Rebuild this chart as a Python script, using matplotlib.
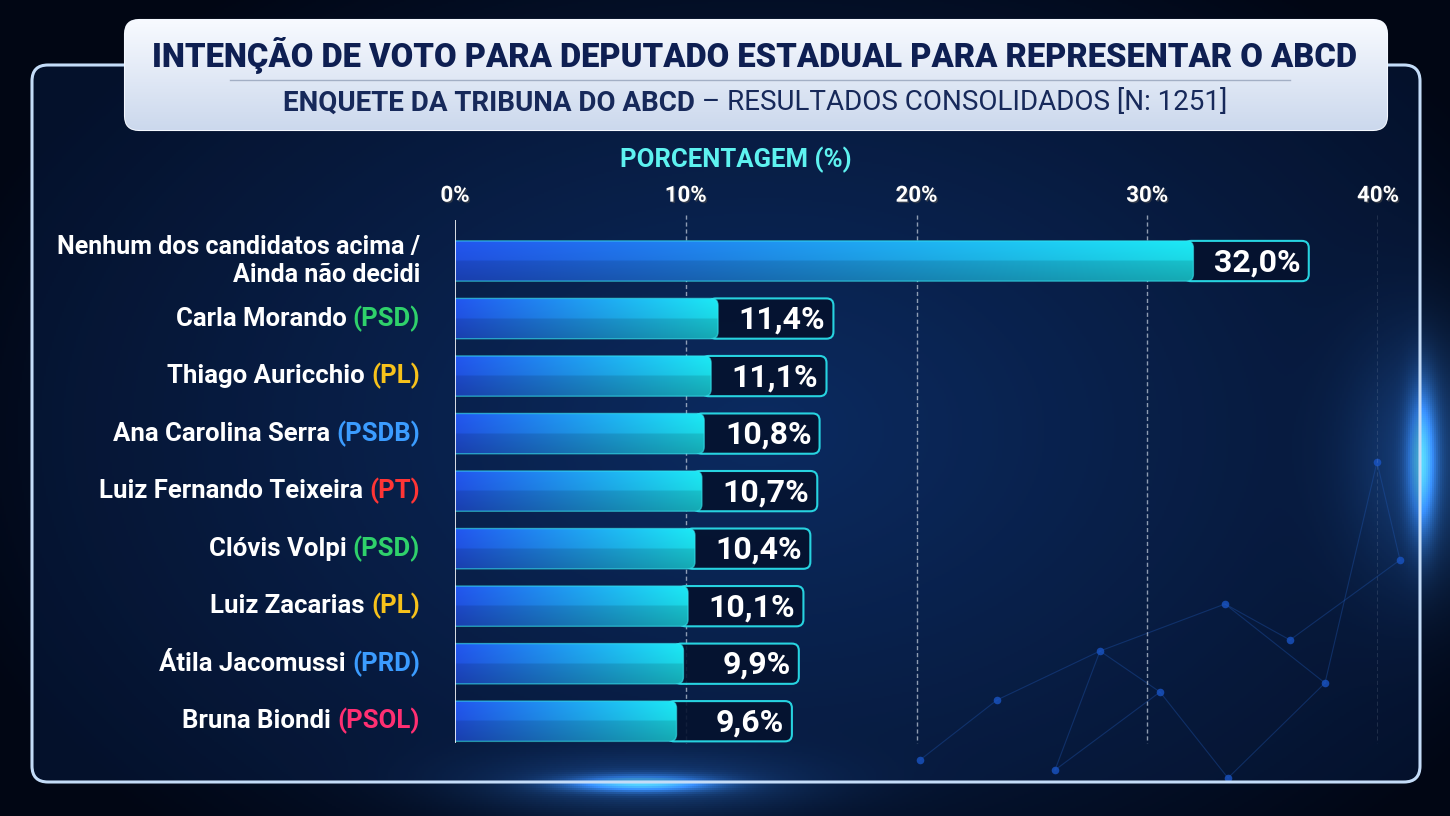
import numpy as np
import matplotlib.pyplot as plt
from matplotlib.patches import FancyBboxPatch
import matplotlib.patheffects as pe

# data
names = ["Nenhum dos candidatos acima /\nAinda não decidi", "Carla Morando", "Thiago Auricchio",
         "Ana Carolina Serra", "Luiz Fernando Teixeira", "Clóvis Volpi", "Luiz Zacarias",
         "Átila Jacomussi", "Bruna Biondi"]
parties = ["", "PSD", "PL", "PSDB", "PT", "PSD", "PL", "PRD", "PSOL"]
values = [32.0, 11.4, 11.1, 10.8, 10.7, 10.4, 10.1, 9.9, 9.6]
party_colors = {"PSD": "#2fd16b", "PL": "#f7c21b", "PSDB": "#3b9cff", "PT": "#ff3535",
                "PRD": "#3b9cff", "PSOL": "#ff2f72"}
ticks = [0, 10, 20, 30, 40]
tick_labels = ["0%", "10%", "20%", "30%", "40%"]

title = "INTENÇÃO DE VOTO PARA DEPUTADO ESTADUAL PARA REPRESENTAR O ABCD"
sub_bold = "ENQUETE DA TRIBUNA DO ABCD"
sub_reg = " – RESULTADOS CONSOLIDADOS [N: 1251]"

# background network decoration (purely ornamental)
deco_nodes = [(1225, 604), (1100, 651), (1055, 770), (1160, 692), (1325, 683), (1377, 462),
              (1228, 778), (997, 700), (920, 760), (1290, 640), (1400, 560)]
deco_links = [(0, 1), (1, 2), (1, 3), (0, 4), (4, 5), (3, 6), (4, 6), (1, 7), (7, 8), (0, 9),
              (9, 10), (5, 10), (3, 2)]

W, H = 1450, 816
fig = plt.figure(figsize=(14.5, 8.16), dpi=100)
rend = fig.canvas.get_renderer()

# background
bg = fig.add_axes([0, 0, 1, 1])
bg.set_xlim(0, W)
bg.set_ylim(H, 0)
bg.axis('off')
yy, xx = np.mgrid[0:H:2, 0:W:2]
d = np.sqrt(((xx - 760) / 850.0) ** 2 + ((yy - 430) / 560.0) ** 2)
t = np.clip(d, 0, 1)[..., None]
c0 = np.array([0.045, 0.17, 0.38])
c1 = np.array([0.004, 0.025, 0.08])
base = c0 * (1 - t) + c1 * t
glow_c = np.array([0.25, 0.6, 1.0])
g1 = np.exp(-(((xx - 1420) / 14.0) ** 2 + ((yy - 460) / 70.0) ** 2))
g1 += 0.35 * np.exp(-(((xx - 1420) / 70.0) ** 2 + ((yy - 460) / 120.0) ** 2))
g2 = np.exp(-(((xx - 640) / 70.0) ** 2 + ((yy - 782) / 8.0) ** 2))
g2 += 0.3 * np.exp(-(((xx - 640) / 160.0) ** 2 + ((yy - 782) / 30.0) ** 2))
base = np.clip(base + (g1 + g2)[..., None] * glow_c, 0, 1)
bg.imshow(base, extent=[0, W, H, 0], aspect='auto', zorder=0)

for a, b in deco_links:
    bg.plot([deco_nodes[a][0], deco_nodes[b][0]], [deco_nodes[a][1], deco_nodes[b][1]],
            color='#2a6fe0', lw=0.8, alpha=0.35, zorder=1)
bg.scatter([p[0] for p in deco_nodes], [p[1] for p in deco_nodes], s=30, color='#1f66ee',
           alpha=0.8, lw=0, zorder=1)

panel = FancyBboxPatch((32, 65), 1388, 717, boxstyle="round,pad=0,rounding_size=16",
                       fc=(0.05, 0.17, 0.38, 0.3), ec='#c4dcf8', lw=2.2, zorder=2)
bg.add_patch(panel)

# title box
tbox = FancyBboxPatch((125, 20), 1262, 110, boxstyle="round,pad=0,rounding_size=14",
                      fc='none', ec='#f4f8ff', lw=1.5, zorder=3)
bg.add_patch(tbox)
gy = np.linspace(0, 1, 50)[:, None, None]
top_c = np.array([0.97, 0.98, 1.0])
bot_c = np.array([0.80, 0.85, 0.93])
gimg = top_c * (1 - gy) + bot_c * gy
gimg = np.repeat(gimg, 2, axis=1)
im = bg.imshow(gimg, extent=[125, 1387, 130, 20], aspect='auto', zorder=3)
im.set_clip_path(tbox)
bg.plot([230, 1290], [80, 80], color='#7c8aa6', lw=1, alpha=0.6, zorder=4)

tt = bg.text(755, 56, title, ha='center', va='center', fontsize=30, fontweight='heavy',
             family='Roboto', color='#0e1f52', zorder=5)
tw = tt.get_window_extent(rend).width
tt.set_fontsize(30 * 1206 / tw)

tb = bg.text(0, 103, sub_bold, ha='left', va='center', fontsize=20, fontweight='bold',
             family='Roboto', color='#17295a', zorder=5)
tr = bg.text(0, 103, sub_reg, ha='left', va='center', fontsize=20,
             family='Roboto', color='#17295a', zorder=5)
w1 = tb.get_window_extent(rend).width
w2 = tr.get_window_extent(rend).width
x0 = 755 - (w1 + w2) / 2
tb.set_x(x0)
tr.set_x(x0 + w1)

bg.text(736, 160, "PORCENTAGEM (%)", ha='center', va='center', fontsize=18.5, fontweight='bold',
        family='Roboto', color='#5ef2f0', zorder=5)

# chart
ax = fig.add_axes([455 / W, 1 - 750 / H, (1378 - 455) / W, (750 - 215) / H])
ax.set_xlim(0, 40)
ax.set_ylim(8.5, -0.8)
ax.patch.set_alpha(0)
for s in ax.spines.values():
    s.set_visible(False)
ax.xaxis.tick_top()
ax.set_xticks(ticks)
ax.set_xticklabels(tick_labels, fontsize=16, fontweight='bold', family='Roboto', color='white')
for lab in ax.get_xticklabels():
    lab.set_path_effects([pe.withSimplePatchShadow(offset=(1, -1), alpha=0.6)])
ax.tick_params(axis='x', length=0, pad=6)
ax.set_yticks([])

ax.vlines(ticks[1:], -0.8, 8.37, colors='#c8d2e0', linestyles=(0, (3, 2)), lw=1, alpha=0.7, zorder=1)
ax.vlines(0, -0.72, 8.37, colors='white', lw=1.2, zorder=6)

h = 0.7
asp = (1 / 57.5) / (40 / 923)
nx = 256
tx = np.linspace(0, 1, nx)
left_c = np.array([0.12, 0.30, 0.84])
right_c = np.array([0.10, 0.82, 0.86])
row = left_c * (1 - tx[:, None]) + right_c * tx[:, None]
vert = np.concatenate([np.linspace(1.12, 1.05, 10), np.linspace(0.92, 0.82, 10)])
grad = np.clip(row[None, :, :] * vert[:, None, None], 0, 1)

for i, v in enumerate(values):
    # value box
    bw = 5.0
    box = FancyBboxPatch((v - 0.4, i - h / 2), bw + 0.4, h, boxstyle="round,pad=0,rounding_size=0.3",
                         mutation_aspect=asp, fc=(0.02, 0.07, 0.18, 0.9), ec='#27d3e0', lw=1.5, zorder=2)
    ax.add_patch(box)
    bar = FancyBboxPatch((-1, i - h / 2), v + 1, h, boxstyle="round,pad=0,rounding_size=0.3",
                         mutation_aspect=asp, fc='none', ec='#38e6f0', lw=1, alpha=0.6, zorder=4)
    ax.add_patch(bar)
    img = ax.imshow(grad, extent=[0, v, i + h / 2, i - h / 2], aspect='auto', zorder=3,
                    interpolation='bilinear')
    img.set_clip_path(bar)
    ax.text(v + bw - 0.35, i + 0.02, f"{v:.1f}%".replace('.', ','), ha='right', va='center',
            fontsize=23, fontweight='bold', family='Roboto', color='white', zorder=5)

ax.set_xlim(0, 40)
ax.set_ylim(8.5, -0.8)

# category labels
ytr = ax.get_yaxis_transform()
lx = (420 - 455) / 923
for i, (n, p) in enumerate(zip(names, parties)):
    if p:
        pt = ax.text(lx, i, f"({p})", transform=ytr, ha='right', va='center', fontsize=18.5,
                     fontweight='bold', family='Roboto', color=party_colors[p])
        pw = pt.get_window_extent(rend).width
        ax.annotate(n + " ", xy=(lx, i), xycoords=ytr, xytext=(-pw * 72 / 100, 0),
                    textcoords='offset points', ha='right', va='center', fontsize=18.5,
                    fontweight='bold', family='Roboto', color='white')
    else:
        ax.text(lx, i, n, transform=ytr, ha='right', va='center', fontsize=18,
                fontweight='bold', family='Roboto', color='white', linespacing=1.25)

fig.savefig("out.png", dpi=100)
